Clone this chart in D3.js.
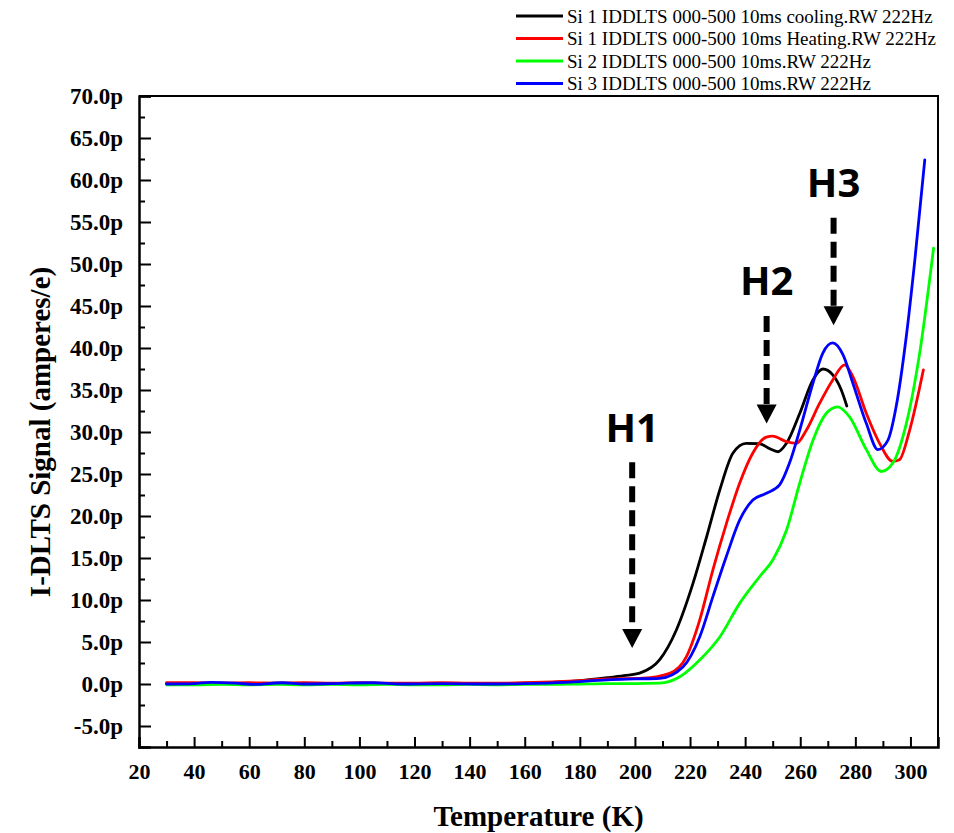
<!DOCTYPE html>
<html><head><meta charset="utf-8">
<script src="https://cdn.jsdelivr.net/npm/d3@7"></script>
<style>
body{margin:0;background:#fff;}
svg{display:block;}
</style></head>
<body><svg id="chart" width="954" height="833"></svg>
<script>
// ---- data ----
const seriesNames = [
  "Si 1 IDDLTS 000-500 10ms cooling.RW 222Hz",
  "Si 1 IDDLTS 000-500 10ms Heating.RW 222Hz",
  "Si 2 IDDLTS 000-500 10ms.RW 222Hz",
  "Si 3 IDDLTS 000-500 10ms.RW 222Hz"
];
const seriesColors = ["#000000", "#ff0000", "#00ff00", "#0000ff"];

const coolingT = [30,40,50,60,70,80,90,100,110,120,130,140,150,160,170,180,190,196,201.7,209,215,221.1,226,230.8,235.6,240.4,245.3,249,251.9,255,259.8,264.6,268.2,271.8,274.9,276.9];
const coolingV = [0.05,0.05,0.1,0.05,0.1,0.05,0.05,0.05,0.05,0.05,0.05,0.05,0.05,0.1,0.2,0.4,0.75,1.0,1.3,2.9,6.4,12,17.5,23.1,27.5,28.65,28.6,28.0,27.65,28.65,32.2,36.2,37.5,36.8,35,33.1];

const heatingT = [30,40,50,60,70,80,90,100,110,120,130,140,150,160,170,180,190,203,212.6,218.7,223.5,228.3,233.2,238,242.8,247.7,250,254.9,258.6,262.2,267,271.8,276.1,279.1,284,288.8,293.6,296,299.7,304.7];
const heatingV = [0.15,0.15,0.1,0.15,0.1,0.15,0.1,0.15,0.1,0.1,0.15,0.1,0.1,0.15,0.25,0.4,0.6,0.7,1.27,3.25,7.6,13.6,19.1,23.9,27.5,29.4,29.5,28.85,28.65,30.2,33.4,36.2,38,36.6,32.2,28.65,26.5,26.7,30.2,37.4];

const si2T = [30,40,50,60,70,80,90,100,110,120,130,140,150,160,170,180,190,200,209,216.3,223.5,230.8,238,245.3,250.1,255,259.8,264.6,269.4,273.6,277.9,284,289.4,293.6,298.5,303.3,308.4];
const si2V = [-0.1,-0.1,-0.05,-0.1,-0.05,-0.1,-0.05,-0.1,-0.05,-0.1,-0.1,-0.05,-0.1,-0.05,-0.05,0.0,0.05,0.05,0.1,0.87,2.86,5.6,9.6,12.8,14.8,18.3,23.9,29,32.2,33,31.8,27.9,25.3,26.3,31,39.3,51.9];

const si3T = [30,40,46,55,62,72,80,90,105,115,130,145,160,175,190,200,209,217.5,223.5,228.3,233.2,238,242.8,247.7,252.5,256.1,259.8,264.6,268.2,271.8,275.5,279.1,284,288.2,291.8,294.8,298.5,301.6,305.2];
const si3V = [0.0,0.05,0.2,0.1,-0.05,0.15,0.0,0.05,0.15,0.0,0.05,0.0,0.05,0.2,0.5,0.6,0.68,2.06,5.6,10.4,15.2,19.5,21.9,22.7,23.7,26.3,30.2,35.8,39.4,40.6,39.2,35.8,31,27.9,29,33,41.4,50.5,62.4];

const xTickLabels = [20,40,60,80,100,120,140,160,180,200,220,240,260,280,300];
const yTickValues = [-5,0,5,10,15,20,25,30,35,40,45,50,55,60,65,70];
const yTickLabels = ["-5.0p","0.0p","5.0p","10.0p","15.0p","20.0p","25.0p","30.0p","35.0p","40.0p","45.0p","50.0p","55.0p","60.0p","65.0p","70.0p"];

const peakLabels = ["H1","H2","H3"];
const peakT = [199, 247.8, 272.1];
const peakTextV = [28.8, 46.3, 58];
const arrowTopV = [26.4, 43.8, 55.5];
const arrowTipV = [4.3, 31, 42.7];

// ---- chart ----
const svg = d3.select("#chart");
const m = {left:139, top:96, right:938, bottom:747};
const x = d3.scaleLinear().domain([20,310]).range([m.left, m.right]);
const y = d3.scaleLinear().domain([-7.5,70]).range([m.bottom, m.top]);

const serif = "'Liberation Serif','Times New Roman',serif";

// frame (top/right)
svg.append("path")
  .attr("d", `M${m.left},${m.top}H${m.right}V${m.bottom}`)
  .attr("fill","none").attr("stroke","#000").attr("stroke-width",2);

// x axis
const xMinor = d3.range(30, 310, 20);
const gx = svg.append("g").attr("transform",`translate(0,${m.bottom})`);
gx.call(d3.axisBottom(x).tickValues(xTickLabels).tickSize(-10).tickPadding(16).tickFormat(d3.format("d")));
gx.append("g").call(d3.axisBottom(x).tickValues(xMinor).tickSize(-6).tickFormat(""));
gx.selectAll(".domain").attr("stroke-width",2.5);
gx.selectAll(".tick line").attr("stroke-width",2);
gx.selectAll("text").attr("font-family",serif).attr("font-weight","bold").attr("font-size",22).attr("fill","#000");
gx.selectAll("g > g .domain").remove();

// y axis
const gy = svg.append("g").attr("transform",`translate(${m.left},0)`);
gy.call(d3.axisLeft(y).tickValues(yTickValues).tickSize(-12).tickPadding(16).tickFormat((d,i)=>yTickLabels[i]));
gy.append("g").call(d3.axisLeft(y).tickValues(d3.range(-2.5, 70, 5)).tickSize(-6).tickFormat(""));
gy.selectAll(".domain").attr("stroke-width",2.5);
gy.selectAll(".tick line").attr("stroke-width",2);
gy.selectAll("text").attr("font-family",serif).attr("font-weight","bold").attr("font-size",23).attr("fill","#000");
gy.selectAll("g > g .domain").remove();

// axis titles
svg.append("text").attr("x",(m.left+m.right)/2).attr("y",826)
  .attr("text-anchor","middle").attr("font-family",serif).attr("font-weight","bold").attr("font-size",29)
  .text("Temperature (K)");
svg.append("text").attr("transform",`translate(50,432) rotate(-90)`)
  .attr("text-anchor","middle").attr("font-family",serif).attr("font-weight","bold").attr("font-size",29)
  .text("I-DLTS Signal (amperes/e)");

// lines
const seriesT = [coolingT, heatingT, si2T, si3T];
const seriesV = [coolingV, heatingV, si2V, si3V];
const line = d3.line().x(d=>x(d[0])).y(d=>y(d[1])).curve(d3.curveMonotoneX);
[0,1,2,3].forEach(i => {
  const pts = seriesT[i].map((t,j)=>[t, seriesV[i][j]]);
  svg.append("path").datum(pts).attr("d", line)
    .attr("fill","none").attr("stroke", seriesColors[i]).attr("stroke-width",2.8)
    .attr("stroke-linejoin","round").attr("stroke-linecap","round");
});

// peak annotations
peakLabels.forEach((lab,i) => {
  const px = x(peakT[i]);
  svg.append("text").attr("x", px).attr("y", y(peakTextV[i]))
    .attr("text-anchor","middle").attr("font-family","'Open Sans',sans-serif").attr("font-weight","bold")
    .attr("font-size",40).attr("fill","#000").text(lab);
  const tipY = y(arrowTipV[i]);
  svg.append("line").attr("x1",px).attr("x2",px).attr("y1",y(arrowTopV[i])).attr("y2",tipY-16)
    .attr("stroke","#000").attr("stroke-width",6).attr("stroke-dasharray","16,8");
  svg.append("path").attr("d",`M${px-10},${tipY-19}L${px+10},${tipY-19}L${px},${tipY}Z`).attr("fill","#000");
});

// legend
const lg = svg.append("g");
seriesNames.forEach((name,i) => {
  const ly = 16 + i*22.5;
  lg.append("line").attr("x1",516).attr("x2",563).attr("y1",ly).attr("y2",ly)
    .attr("stroke",seriesColors[i]).attr("stroke-width",3);
  lg.append("text").attr("x",567).attr("y",ly).attr("dy","0.35em")
    .attr("font-family",serif).attr("font-size",19).attr("fill","#000").text(name);
});
</script>
</body></html>
